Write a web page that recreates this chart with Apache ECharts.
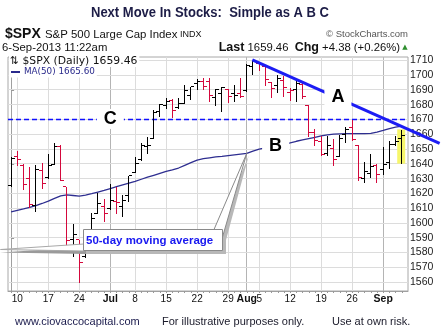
<!DOCTYPE html>
<html>
<head>
<meta charset="utf-8">
<script src="https://cdn.jsdelivr.net/npm/echarts@6/dist/echarts.min.js"></script>
<style>
  html, body { margin: 0; padding: 0; background: #fff; }
  #chart { width: 441px; height: 336px; }
</style>
</head>
<body>
<div id="chart"></div>
<script>
// ---- S&P 500 daily bars, 7 Jun 2013 – 6 Sep 2013 (last bar intraday) ----
const dates = [
  '06-07','06-10','06-11','06-12','06-13','06-14','06-17','06-18','06-19','06-20','06-21',
  '06-24','06-25','06-26','06-27','06-28','07-01','07-02','07-03','07-05','07-08','07-09',
  '07-10','07-11','07-12','07-15','07-16','07-17','07-18','07-19','07-22','07-23','07-24',
  '07-25','07-26','07-29','07-30','07-31','08-01','08-02','08-05','08-06','08-07','08-08',
  '08-09','08-12','08-13','08-14','08-15','08-16','08-19','08-20','08-21','08-22','08-23',
  '08-26','08-27','08-28','08-29','08-30','09-03','09-04','09-05','09-06'
];
const opens = [
  1625.27,1644.67,1638.64,1629.94,1612.15,1635.52,1630.64,1639.77,1651.83,1624.62,1588.62,
  1588.77,1577.52,1592.27,1606.44,1611.12,1609.78,1614.29,1611.48,1618.65,1634.20,1642.89,
  1651.56,1657.41,1675.26,1679.59,1682.70,1677.91,1681.05,1686.15,1694.41,1695.53,1696.06,
  1685.21,1687.31,1690.32,1687.92,1687.76,1689.42,1706.10,1708.01,1705.79,1695.30,1693.35,
  1696.10,1688.37,1690.65,1693.88,1679.61,1661.22,1655.25,1646.81,1650.66,1645.03,1659.92,
  1664.29,1652.54,1630.25,1633.50,1638.89,1635.95,1640.72,1653.28,1657.44
];
const highs = [
  1644.40,1648.69,1640.13,1637.71,1639.25,1640.80,1646.50,1654.19,1652.45,1624.62,1599.19,
  1588.77,1593.79,1606.83,1620.07,1615.94,1626.61,1624.26,1618.97,1632.07,1644.68,1654.18,
  1657.92,1676.63,1680.19,1684.51,1683.73,1684.75,1693.12,1692.09,1697.61,1697.86,1698.38,
  1690.94,1691.85,1690.92,1693.19,1698.43,1707.85,1709.67,1709.24,1705.79,1695.30,1700.18,
  1699.42,1691.49,1696.81,1695.52,1679.61,1663.60,1659.18,1658.92,1656.99,1659.55,1664.85,
  1669.51,1652.54,1641.18,1646.41,1640.08,1651.35,1655.72,1659.17,1662.80
];
const lows = [
  1625.27,1639.26,1622.92,1610.92,1608.07,1623.96,1630.34,1639.77,1628.91,1584.32,1577.70,
  1560.33,1577.09,1592.27,1606.44,1601.06,1609.78,1606.77,1604.57,1614.71,1634.20,1642.89,
  1647.66,1657.41,1672.33,1677.89,1671.84,1677.91,1681.05,1684.08,1690.67,1690.67,1682.57,
  1680.07,1676.03,1681.86,1682.42,1684.94,1689.42,1700.68,1703.55,1693.29,1684.91,1688.38,
  1686.02,1683.35,1682.62,1684.83,1658.59,1652.61,1645.84,1646.08,1639.43,1645.03,1654.81,
  1656.02,1629.05,1627.47,1630.88,1628.05,1633.41,1637.41,1653.07,1640.40
];
const closes = [
  1643.38,1642.81,1626.13,1612.52,1636.36,1626.73,1639.04,1651.81,1628.93,1588.19,1592.43,
  1573.09,1588.03,1603.26,1613.20,1606.28,1614.96,1614.08,1615.41,1631.89,1640.46,1652.32,
  1652.62,1675.02,1680.19,1682.50,1676.26,1680.91,1689.37,1692.09,1695.53,1692.39,1685.94,
  1690.25,1691.65,1685.33,1685.96,1685.73,1706.87,1709.67,1707.14,1697.37,1690.91,1697.48,
  1691.42,1689.47,1694.16,1685.39,1661.32,1655.83,1646.06,1652.35,1642.80,1656.96,1663.50,
  1656.78,1630.48,1634.96,1638.17,1632.97,1639.77,1653.08,1655.08,1659.46
];
// 50-day moving average
const ma50 = [
  1607.5,1608.5,1609.5,1610.6,1611.8,1613.2,1614.8,1616.6,1618.3,1619.0,1618.6,
  1618.2,1618.8,1619.8,1620.9,1622.0,1623.3,1624.6,1625.8,1627.0,1628.2,1629.6,
  1631.0,1632.3,1633.6,1634.9,1636.0,1637.2,1639.0,1640.8,1642.6,1643.5,1644.1,
  1644.7,1645.1,1645.6,1646.1,1646.6,1647.1,1648.6,1650.0,1650.9,1651.7,1652.5,
  1653.4,1654.2,1655.3,1656.2,1657.1,1658.0,1658.9,1659.6,1660.1,1660.3,1660.4,
  1660.4,1660.5,1660.5,1660.6,1661.5,1662.6,1663.8,1664.9,1665.6
];

// axis ticks
const xTickIndex = [1, 6, 11, 16, 20, 25, 30, 35, 38, 40, 45, 50, 55, 60];
const xTickText  = ['10','17','24','Jul','8','15','22','29','Aug','5','12','19','26','Sep'];
const monthTicks = ['Jul', 'Aug', 'Sep'];
const yTicks = [1560,1570,1580,1590,1600,1610,1620,1630,1640,1650,1660,1670,1680,1690,1700,1710];

// annotations (data space)
const resistanceLevel = 1670;                 // "C"
const trendLine = [38.9, 1710.4, 69.1, 1653.9]; // "A" falling trend line
const labelA = [52.7, 1685.0];
const labelB = [42.65, 1651.9];
const labelC = [16.0, 1670.4];

const FONT = "'Liberation Sans', Arial, Helvetica, sans-serif";
const MONO = "'DejaVu Sans', Verdana, sans-serif";
const lastIdx = closes.length - 1;

const bars = closes.map((c, i) => {
  const up = i === 0 ? c >= opens[i] : c >= closes[i - 1];
  return [i, opens[i], highs[i], lows[i], c, up ? 1 : 0];
});

const snap = v => Math.round(v) + 0.5;

const chart = echarts.init(document.getElementById('chart'), null, { renderer: 'canvas' });

const option = {
  animation: false,
  grid: { left: 8, top: 57, width: 400, height: 234, show: true, borderColor: '#a8a8a8', borderWidth: 1, backgroundColor: '#fff' },
  xAxis: {
    type: 'value', min: -0.5, max: 64,
    splitLine: { show: false },
    axisLine: { show: true, lineStyle: { color: '#a0a0a0' } },
    axisTick: { show: true, length: 2, customValues: dates.map((d, i) => i), lineStyle: { color: '#999' } },
    axisLabel: {
      customValues: xTickIndex, margin: 3, fontSize: 10, color: '#111', fontFamily: FONT,
      formatter: v => {
        const t = xTickText[xTickIndex.indexOf(Math.round(v))] || '';
        return monthTicks.includes(t) ? '{b|' + t + '}' : t;
      },
      rich: { b: { fontWeight: 'bold', fontSize: 10.5, color: '#111', fontFamily: FONT } }
    }
  },
  yAxis: {
    type: 'value', position: 'right', min: 1554, max: 1712.3,
    splitLine: { show: false },
    axisLine: { show: true, lineStyle: { color: '#a0a0a0' } },
    axisTick: { show: true, length: 3, customValues: yTicks, lineStyle: { color: '#999' } },
    axisLabel: { customValues: yTicks, margin: 2, fontSize: 10.5, color: '#222', fontFamily: FONT,
      formatter: v => String(v) }
  },
  series: [
    { // weekly / monthly vertical grid lines
      type: 'custom', z: 1, silent: true, clip: true,
      data: xTickIndex.map((i, k) => [i, monthTicks.includes(xTickText[k]) ? 1 : 0]),
      encode: { x: 0 },
      renderItem: (params, api) => {
        const cs = params.coordSys;
        const x = snap(api.coord([api.value(0), 1600])[0] - 0.5);
        return { type: 'line', shape: { x1: x, y1: cs.y, x2: x, y2: cs.y + cs.height },
          style: { stroke: api.value(1) ? '#b4b4b4' : '#dcdcdc', lineWidth: 1 } };
      }
    },
    { // horizontal grid lines
      type: 'custom', z: 1, silent: true,
      data: yTicks.map(v => [0, v]),
      encode: { x: 0, y: 1 },
      renderItem: (params, api) => {
        const cs = params.coordSys;
        const y = snap(api.coord([0, api.value(1)])[1] - 0.5);
        return { type: 'line', shape: { x1: cs.x, y1: y, x2: cs.x + cs.width, y2: y },
          style: { stroke: '#dcdcdc', lineWidth: 1 } };
      }
    },
    { // highlight behind the latest bar
      type: 'custom', z: 2, silent: true,
      data: [[lastIdx, lows[lastIdx], highs[lastIdx]]],
      encode: { x: 0, y: [1, 2] },
      renderItem: (params, api) => {
        const i = api.value(0);
        const a = api.coord([i - 0.74, api.value(2) + 0.6]);
        const b = api.coord([i + 0.55, api.value(1) - 0.25]);
        return { type: 'rect', shape: { x: a[0], y: a[1], width: b[0] - a[0], height: b[1] - a[1] },
          style: { fill: '#f6f66a' } };
      }
    },
    { // "C" resistance line
      type: 'custom', z: 3, silent: true,
      data: [[0, resistanceLevel]],
      encode: { x: 0, y: 1 },
      renderItem: (params, api) => {
        const cs = params.coordSys;
        const y = snap(api.coord([0, api.value(1)])[1] - 0.5);
        return { type: 'line', shape: { x1: cs.x, y1: y, x2: cs.x + cs.width, y2: y },
          style: { stroke: '#1010ff', lineWidth: 1.4, lineDash: [5, 3] } };
      }
    },
    { // MA(50)
      type: 'line', z: 4, silent: true, symbol: 'none', smooth: false,
      data: ma50.map((v, i) => [i, v]),
      lineStyle: { color: '#2e2e90', width: 1.3 }
    },
    { // OHLC bars
      type: 'custom', z: 5, silent: true,
      data: bars,
      encode: { x: 0, y: [1, 2, 3, 4] },
      renderItem: (params, api) => {
        const x = api.value(0);
        const pO = api.coord([x, api.value(1)]);
        const pH = api.coord([x, api.value(2)]);
        const pL = api.coord([x, api.value(3)]);
        const pC = api.coord([x, api.value(4)]);
        const color = api.value(5) ? '#000000' : '#d4083c';
        const cx = snap(pH[0] - 0.5);
        const st = { stroke: color, lineWidth: 1 };
        return { type: 'group', children: [
          { type: 'line', shape: { x1: cx, y1: Math.round(pH[1]), x2: cx, y2: Math.round(pL[1]) + 1 }, style: st },
          { type: 'line', shape: { x1: cx - 3.5, y1: snap(pO[1] - 0.5), x2: cx - 0.5, y2: snap(pO[1] - 0.5) }, style: st },
          { type: 'line', shape: { x1: cx + 0.5, y1: snap(pC[1] - 0.5), x2: cx + 3.5, y2: snap(pC[1] - 0.5) }, style: st }
        ] };
      }
    },
    { // "A" trend line, runs past the plot edge
      type: 'custom', z: 6, silent: true, clip: false,
      data: [trendLine],
      encode: { x: [0, 2], y: [1, 3] },
      renderItem: (params, api) => {
        const p0 = api.coord([api.value(0), api.value(1)]);
        const p1 = api.coord([api.value(2), api.value(3)]);
        return { type: 'line', shape: { x1: p0[0], y1: p0[1], x2: p1[0], y2: p1[1] },
          style: { stroke: '#1c1cf4', lineWidth: 3 } };
      }
    }
  ]
};
chart.setOption(option);

// ---- text, callout and letter labels ----
const px = p => chart.convertToPixel({ gridIndex: 0 }, p);
const letter = (p, t) => {
  const q = px(p);
  return { type: 'text', z: 110, x: q[0], y: q[1], silent: true,
    style: { text: t, fontSize: 18, fontWeight: 'bold', fontFamily: FONT, fill: '#000',
      align: 'center', verticalAlign: 'middle', backgroundColor: '#fff', padding: [1, 7] } };
};
const tip = px([38, ma50[38]]);

const graphic = [
  // header
  { type: 'text', z: 100, x: 210, y: 13, scaleX: 0.93, silent: true,
    style: { text: 'Next Move In Stocks:  Simple as A B C', fontSize: 14, fontWeight: 'bold', fontFamily: FONT,
      fill: '#1c1c46', align: 'center', verticalAlign: 'middle' } },
  { type: 'text', z: 100, x: 5, y: 34, silent: true,
    style: { text: '$SPX', fontSize: 14, fontWeight: 'bold', fontFamily: FONT, fill: '#111', verticalAlign: 'middle' } },
  { type: 'text', z: 100, x: 45, y: 34.5, silent: true,
    style: { text: 'S&P 500 Large Cap Index', fontSize: 11.4, fontFamily: FONT, fill: '#111', verticalAlign: 'middle' } },
  { type: 'text', z: 100, x: 180, y: 34.5, silent: true,
    style: { text: 'INDX', fontSize: 9, fontFamily: FONT, fill: '#111', verticalAlign: 'middle' } },
  { type: 'text', z: 100, x: 408, y: 34.5, silent: true,
    style: { text: '© StockCharts.com', fontSize: 9.5, fontFamily: FONT, fill: '#555', align: 'right', verticalAlign: 'middle' } },
  { type: 'text', z: 100, x: 2, y: 47.5, silent: true,
    style: { text: '6-Sep-2013 11:22am', fontSize: 11.3, fontFamily: FONT, fill: '#111', verticalAlign: 'middle' } },
  { type: 'text', z: 100, x: 400, y: 47.5, silent: true,
    style: { text: '{b|Last} 1659.46  {b|Chg} +4.38 (+0.26%)', fontSize: 11.3, fontFamily: FONT, fill: '#111',
      align: 'right', verticalAlign: 'middle',
      rich: { b: { fontSize: 12.5, fontWeight: 'bold', fontFamily: FONT, fill: '#111' } } } },
  { type: 'text', z: 100, x: 405, y: 47, silent: true,
    style: { text: '▲', fontSize: 7, fontFamily: MONO, fill: '#2f8f2f', align: 'center', verticalAlign: 'middle' } },

  // in-plot legend
  { type: 'text', z: 100, x: 9, y: 61.5, silent: true,
    style: { text: '⇅ $SPX (Daily) 1659.46', fontSize: 10.8, fontFamily: MONO, fill: '#111',
      verticalAlign: 'middle', backgroundColor: '#fff', padding: [0, 2, 0, 1] } },
  { type: 'text', z: 100, x: 9, y: 72, silent: true,
    style: { text: '     MA(50) 1665.60', fontSize: 8.8, fontFamily: MONO, fill: '#2a2a8c',
      verticalAlign: 'middle', backgroundColor: '#fff', padding: [1, 2, 1, 1] } },
  { type: 'line', z: 101, silent: true, shape: { x1: 11, y1: 72, x2: 20, y2: 72 },
    style: { stroke: '#2a2a8c', lineWidth: 2 } },

  // letters
  letter(labelA, 'A'),
  letter(labelB, 'B'),
  letter(labelC, 'C'),

  // callout: shadows
  { type: 'polygon', z: 102, silent: true, shape: { points: [[86, 247], [0, 252.5], [86, 254]] }, style: { fill: '#9a9a9a' } },
  { type: 'polygon', z: 102, silent: true, shape: { points: [[217, 232], [tip[0] + 2, tip[1] + 2], [226, 240]] }, style: { fill: '#b8b8b8' } },
  { type: 'rect', z: 102, silent: true, shape: { x: 86, y: 232, width: 140, height: 22 }, style: { fill: '#b8b8b8' } },
  // callout: pointers and box
  { type: 'polygon', z: 103, silent: true, shape: { points: [[84, 244], [0.5, 249.5], [84, 251]] },
    style: { fill: '#fff', stroke: '#a8a8a8', lineWidth: 1 } },
  { type: 'polygon', z: 103, silent: true, shape: { points: [[214, 229.5], [tip[0], tip[1]], [222.5, 237]] },
    style: { fill: '#fff', stroke: '#8a8a8a', lineWidth: 1 } },
  { type: 'rect', z: 104, silent: true, shape: { x: 83.5, y: 229.5, width: 139, height: 21 },
    style: { fill: '#fff', stroke: '#8a8a8a', lineWidth: 1 } },
  { type: 'text', z: 105, x: 86, y: 240.5, silent: true,
    style: { text: '50-day moving average', fontSize: 11.5, fontWeight: 'bold', fontFamily: FONT,
      fill: '#1818f0', verticalAlign: 'middle' } },

  // footer
  { type: 'text', z: 100, x: 15, y: 322, silent: true,
    style: { text: 'www.ciovaccocapital.com', fontSize: 11, fontFamily: FONT, fill: '#1a1a4c', verticalAlign: 'middle' } },
  { type: 'text', z: 100, x: 162, y: 322, silent: true,
    style: { text: 'For illustrative purposes only.', fontSize: 11, fontFamily: FONT, fill: '#1a1a2a', verticalAlign: 'middle' } },
  { type: 'text', z: 100, x: 332, y: 322, silent: true,
    style: { text: 'Use at own risk.', fontSize: 11, fontFamily: FONT, fill: '#1a1a2a', verticalAlign: 'middle' } }
];
chart.setOption({ graphic: graphic });
</script>
</body>
</html>
